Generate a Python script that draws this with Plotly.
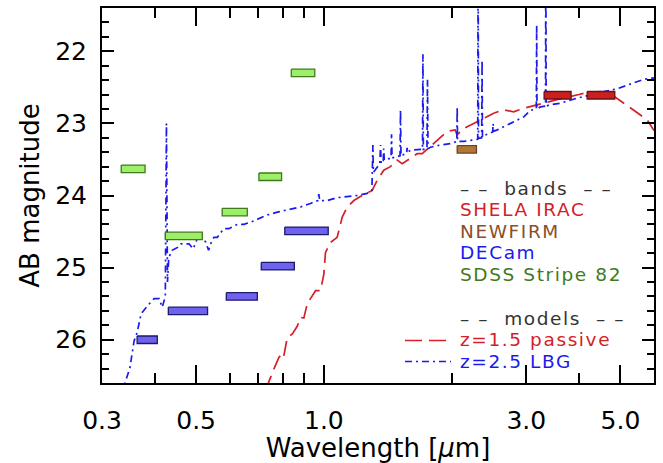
import numpy as np
import plotly.graph_objects as go

# ---------------- model spectra (wavelength in micron, AB magnitude) ----------------
passive_wl = [0.720, 0.740, 0.762, 0.783, 0.800, 0.805, 0.820, 0.843, 0.866, 0.881,
              0.897, 0.914, 0.930, 0.956, 0.982, 1.000, 1.009, 1.037, 1.075, 1.105,
              1.135, 1.177, 1.231, 1.300, 1.336, 1.384, 1.435, 1.489, 1.530, 1.600,
              1.660, 1.706, 1.784, 1.849, 1.900, 1.953, 2.040, 2.060, 2.137, 2.256,
              2.382, 2.514, 2.650, 2.800, 2.960, 3.120, 3.290, 3.540, 3.810, 3.990,
              4.170, 4.500, 4.820, 5.090, 5.470, 5.780, 6.000]
passive_mag = [27.00, 26.60, 26.41, 26.25, 26.18, 26.22, 25.97, 25.92, 25.81, 25.69,
               25.70, 25.50, 25.43, 25.32, 25.32, 25.09, 24.79, 24.65, 24.58, 24.30,
               24.16, 24.07, 24.00, 23.93, 23.79, 23.65, 23.60, 23.51, 23.56, 23.48,
               23.42, 23.42, 23.32, 23.23, 23.18, 23.11, 23.09, 23.16, 23.07, 23.00,
               22.93, 22.86, 22.81, 22.84, 22.79, 22.76, 22.72, 22.67, 22.63, 22.60,
               22.57, 22.56, 22.62, 22.72, 22.84, 22.95, 23.10]

lbg_wl = [0.330, 0.339, 0.349, 0.357, 0.363, 0.371, 0.384, 0.398, 0.409, 0.416,
          0.423, 0.4256, 0.428, 0.431, 0.439, 0.452, 0.460, 0.481, 0.492, 0.503,
          0.515, 0.526, 0.535, 0.545, 0.551, 0.561, 0.581, 0.597, 0.625, 0.648,
          0.672, 0.703, 0.736, 0.777, 0.820, 0.881, 0.930, 0.968, 0.973, 0.978,
          1.019, 1.075, 1.198, 1.265, 1.298, 1.302, 1.305, 1.308, 1.336, 1.355,
          1.360, 1.365, 1.380, 1.384, 1.388, 1.423, 1.440, 1.444, 1.448, 1.489,
          1.512, 1.516, 1.520, 1.530, 1.567, 1.571, 1.575, 1.600, 1.690, 1.708,
          1.712, 1.716, 1.750, 1.755, 1.760, 1.784, 1.884, 1.988, 2.058, 2.062,
          2.066, 2.137, 2.256, 2.305, 2.310, 2.315, 2.355, 2.360, 2.365, 2.382,
          2.500, 2.506, 2.512, 2.562, 2.754, 2.960, 3.069, 3.168, 3.174, 3.180,
          3.240, 3.330, 3.336, 3.342, 3.420, 3.610, 3.954, 4.250, 4.567, 4.912,
          5.280, 5.670, 6.000]
lbg_mag = [27.00, 26.62, 26.39, 26.02, 25.90, 25.64, 25.53, 25.43, 25.43, 25.55,
           25.40, 23.00, 25.20, 24.86, 24.76, 24.72, 24.67, 24.67, 24.74, 24.60,
           24.60, 24.64, 24.76, 24.62, 24.58, 24.58, 24.46, 24.46, 24.40, 24.40,
           24.37, 24.32, 24.27, 24.23, 24.20, 24.16, 24.11, 24.07, 23.98, 24.07,
           24.07, 24.03, 24.00, 23.97, 23.93, 23.70, 23.30, 23.68, 23.60, 23.56,
           23.30, 23.56, 23.52, 23.35, 23.51, 23.49, 23.48, 23.15, 23.48, 23.46,
           23.45, 22.81, 23.45, 23.44, 23.42, 23.34, 23.41, 23.37, 23.37, 23.36,
           22.04, 23.36, 23.35, 22.39, 23.35, 23.33, 23.30, 23.28, 23.25, 22.77,
           23.25, 23.25, 23.23, 23.22, 20.50, 23.21, 23.20, 22.12, 23.19, 23.17,
           23.12, 23.00, 23.11, 23.09, 23.00, 22.91, 22.82, 22.80, 21.63, 22.80,
           22.77, 22.76, 20.50, 22.76, 22.74, 22.72, 22.65, 22.60, 22.56, 22.52,
           22.46, 22.39, 22.37]

# ---------------- photometric bands: wavelength coverage and depth ----------------
irac_lo = [3.305, 4.174]
irac_hi = [3.826, 4.850]
irac_mag = [22.61, 22.61]

newfirm_lo = [2.062]
newfirm_hi = [2.289]
newfirm_mag = [23.36]

decam_lo = [0.363, 0.430, 0.589, 0.712, 0.809]
decam_hi = [0.405, 0.532, 0.697, 0.852, 1.024]
decam_mag = [26.00, 25.60, 25.40, 24.98, 24.49]

sdss_lo = [0.333, 0.423, 0.576, 0.703, 0.838]
sdss_hi = [0.379, 0.517, 0.660, 0.795, 0.952]
sdss_mag = [23.63, 24.56, 24.23, 23.74, 22.30]

# ---------------- axis ticks ----------------
x_ticks = [0.3, 0.5, 1.0, 3.0, 5.0]
x_ticklabels = ["0.3", "0.5", "1.0", "3.0", "5.0"]
x_minor = [0.4, 0.6, 0.7, 0.8, 0.9, 2.0, 4.0]
y_ticks = [22, 23, 24, 25, 26]

# ---------------- styling ----------------
FONT = "DejaVu Sans"
RED = "#d42027"
BROWN = "#8b4e2a"
BLUE = "#1a1aee"
GREEN = "#3f7a1c"
GREY = "#333333"
BOX_HALF = 0.052  # half height of each band box, in magnitudes

band_styles = [
    (irac_lo, irac_hi, irac_mag, "#cc1f1f", "#6e1010"),
    (newfirm_lo, newfirm_hi, newfirm_mag, "#b07838", "#6e4420"),
    (decam_lo, decam_hi, decam_mag, "#6e62ee", "#1c1a6a"),
    (sdss_lo, sdss_hi, sdss_mag, "#9cef66", "#3e7a1c"),
]

fig = go.Figure()

fig.add_trace(go.Scatter(
    x=passive_wl, y=passive_mag, mode="lines",
    line=dict(color=RED, width=1.7, dash="15px,7px"), hoverinfo="skip"))
fig.add_trace(go.Scatter(
    x=lbg_wl, y=lbg_mag, mode="lines",
    line=dict(color=BLUE, width=1.7, dash="7px,4px,2px,4px"), hoverinfo="skip"))

for lo, hi, mag, fill, edge in band_styles:
    for a, b, m in zip(lo, hi, mag):
        fig.add_trace(go.Scatter(
            x=[a, b, b, a, a],
            y=[m - BOX_HALF, m - BOX_HALF, m + BOX_HALF, m + BOX_HALF, m - BOX_HALF],
            mode="lines", fill="toself", fillcolor=fill,
            line=dict(color=edge, width=1.3), hoverinfo="skip"))

# ---------------- text key on the right ----------------
L, R, T, B = 102, 9, 8, 80
W, H = 663, 463
pw, ph = W - L - R, H - T - B


def px(x):
    return (x - L) / pw


def py(y):
    return (H - B - y) / ph


key_lines = [
    ("– –\u00a0 bands \u00a0– –", GREY, 188.0),
    ("SHELA IRAC", RED, 209.6),
    ("NEWFIRM", BROWN, 231.2),
    ("DECam", BLUE, 252.8),
    ("SDSS Stripe 82", GREEN, 274.4),
    ("– –\u00a0 models \u00a0– –", GREY, 318.0),
    ("z=1.5 passive", RED, 339.6),
    ("z=2.5 LBG", BLUE, 361.2),
]
for txt, col, yy in key_lines:
    fig.add_annotation(x=px(459), y=py(yy), xref="paper", yref="paper",
                       text=f"<span style='letter-spacing:1.6px'>{txt}</span>",
                       showarrow=False, xanchor="left", yanchor="middle",
                       borderpad=0,
                       font=dict(family=FONT, size=18.5, color=col))

fig.add_shape(type="line", xref="paper", yref="paper",
              x0=px(405), x1=px(448), y0=py(340.5), y1=py(340.5),
              line=dict(color=RED, width=1.7, dash="17px,7px"))
fig.add_shape(type="line", xref="paper", yref="paper",
              x0=px(405), x1=px(451), y0=py(361.5), y1=py(361.5),
              line=dict(color=BLUE, width=1.7, dash="7px,4px,2px,4px"))

axis_common = dict(
    showline=True, linecolor="black", linewidth=2, mirror="allticks",
    ticks="inside", tickcolor="black", tickwidth=2, showgrid=False,
    zeroline=False, automargin=False,
    tickfont=dict(family=FONT, size=25, color="black"),
)

fig.update_xaxes(
    type="log", range=[np.log10(0.3), np.log10(6.0)],
    tickmode="array", tickvals=x_ticks, ticktext=x_ticklabels, ticklen=18,
    ticklabelstandoff=14,
    minor=dict(tickmode="array", tickvals=x_minor, ticks="inside", ticklen=10,
               tickwidth=2, tickcolor="black", showgrid=False),
    title=dict(text="Wavelength [<i>μ</i>m]", standoff=18,
               font=dict(family=FONT, size=26, color="black")),
    **axis_common)

fig.update_yaxes(
    range=[26.6, 21.4], tickmode="array", tickvals=y_ticks, ticklen=12,
    ticklabelstandoff=8,
    minor=dict(dtick=0.2, tick0=22, ticks="inside", ticklen=7, tickwidth=2,
               tickcolor="black", showgrid=False),
    title=dict(text="AB magnitude", standoff=8,
               font=dict(family=FONT, size=26, color="black")),
    **axis_common)

fig.update_layout(
    width=W, height=H, margin=dict(l=L, r=R, t=T, b=B),
    paper_bgcolor="white", plot_bgcolor="white", showlegend=False,
    template="none",
)

fig.write_html("out.html")
